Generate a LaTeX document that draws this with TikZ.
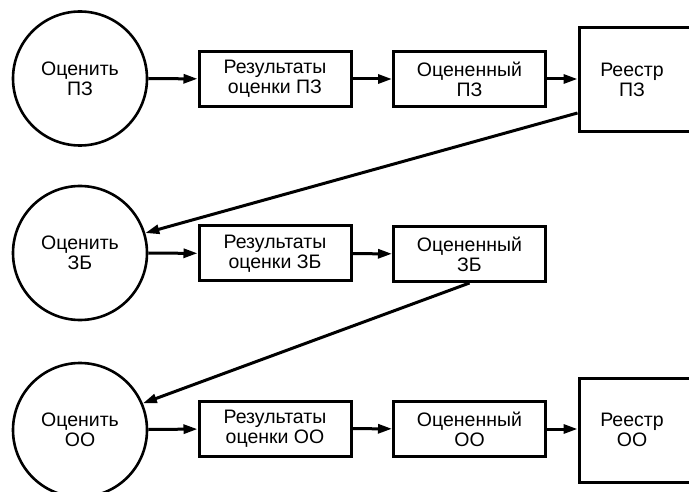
\documentclass[tikz,border=0pt]{standalone}
\usepackage{fontspec}
\setmainfont{Liberation Sans}
\usetikzlibrary{arrows.meta}
\begin{document}
\begin{tikzpicture}[x=1pt,y=-1pt,
  every node/.style={font=\fontsize{19.5}{20}\selectfont, align=center, inner sep=0pt},
  proc/.style={draw, circle, line width=2.6pt, minimum size=134pt},
  resbox/.style={draw, rectangle, line width=3pt, minimum width=152pt, minimum height=55pt},
  regbox/.style={draw, rectangle, line width=3pt, minimum width=112pt, minimum height=104pt},
  flow/.style={line width=3pt, -{Triangle[length=14pt,width=9pt]}}]
\useasboundingbox (0,0) rectangle (689,492);
\clip (0,0) rectangle (689,492);
% row 1
\node[proc] (c1) at (80,78.5) {Оценить\\ПЗ};
\node[resbox] (r1) at (275,79) {Результаты\\оценки ПЗ};
\node[resbox] (o1) at (469.5,79) {Оцененный\\ПЗ};
\node[regbox] (g1) at (635,79.5) {};
\node at (632,79.5) {Реестр\\ПЗ};
% row 2
\node[proc] (c2) at (80,253) {Оценить\\ЗБ};
\node[resbox] (r2) at (275,253.5) {Результаты\\оценки ЗБ};
\node[resbox] (o2) at (469.5,254) {Оцененный\\ЗБ};
% row 3
\node[proc] (c3) at (80,430) {Оценить\\ОО};
\node[resbox] (r3) at (275,428.5) {Результаты\\оценки ОО};
\node[resbox] (o3) at (469.5,429) {Оцененный\\ОО};
\node[regbox] (g3) at (635,430) {};
\node at (632,430) {Реестр\\ОО};
% connectors
\draw[flow] (c1) -- (r1);
\draw[flow] (r1) -- (o1);
\draw[flow] (o1) -- (g1.west |- o1.east);
\draw[flow] (c2) -- (r2);
\draw[flow] (r2) -- (o2);
\draw[flow] (c3) -- (r3);
\draw[flow] (r3) -- (o3);
\draw[flow] (o3) -- (g3.west |- o3.east);
\coordinate (s1) at ([yshift=20pt]g1.south west);
\draw[flow] (s1) -- (c2.17);
\draw[flow] (o2.south) -- (c3.23);
\end{tikzpicture}
\end{document}
